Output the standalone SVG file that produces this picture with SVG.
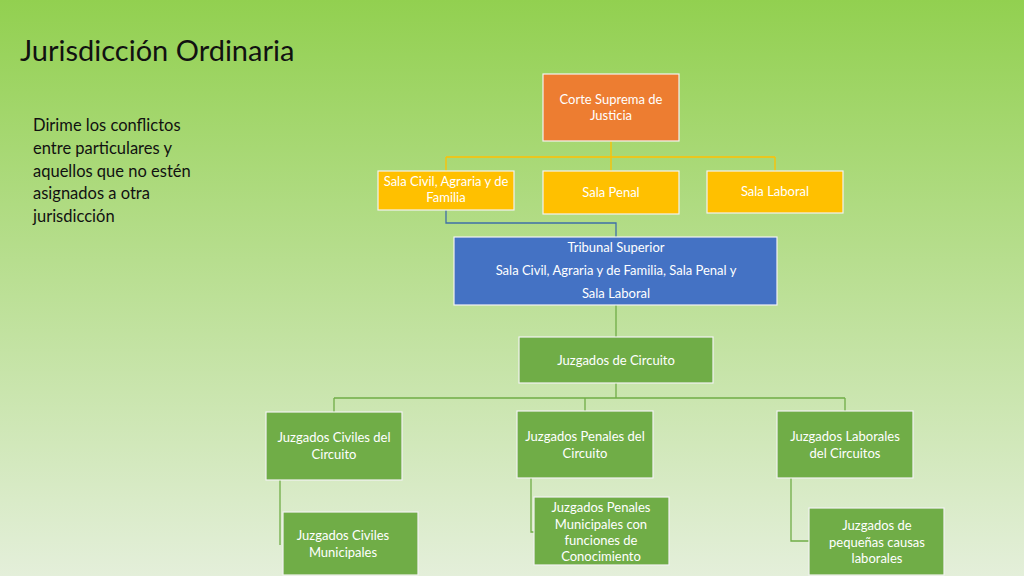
<svg xmlns="http://www.w3.org/2000/svg" width="1024" height="576" viewBox="0 0 1024 576">
<defs>
<linearGradient id="bg" x1="0" y1="0" x2="0" y2="1">
<stop offset="0" stop-color="#92d050"/>
<stop offset="1" stop-color="#e4efda"/>
</linearGradient>
<style>
.n{stroke:#f2f2f2;stroke-width:1.2}
.t{font-family:Lato,"Open Sans",sans-serif;font-size:13px;fill:#fff;text-anchor:middle}
.c{fill:none;stroke-width:1.3}
</style>
</defs>
<rect width="1024" height="576" fill="url(#bg)"/>
<text x="20" y="61" font-family="Lato,'Open Sans',sans-serif" font-size="29" fill="#111">Jurisdicción Ordinaria</text>
<g font-family="Lato,'Open Sans',sans-serif" font-size="16.5" fill="#111">
<text x="33" y="131">Dirime los conflictos</text>
<text x="33" y="154">entre particulares y</text>
<text x="33" y="177">aquellos que no estén</text>
<text x="33" y="199">asignados a otra</text>
<text x="33" y="222">jurisdicción</text>
</g>
<g id="connectors">
<path class="c" stroke="#ffc000" d="M611 141V157M446 157H775M446 157V171M611 157V171M775 157V171"/>
<path class="c" stroke="#3f6fa8" d="M446 210V223H616V237"/>
<path class="c" stroke="#70ad47" d="M616 305V337M616 383V398M334 398H845M334 398V412M585 398V411M845 398V411M280 480V545M531 478V532H534M791 478V541H809"/>
</g>
<g id="corte"><rect class="n" x="543" y="74" width="136" height="67" fill="#ed7d31"/><text class="t" x="611" y="104">Corte Suprema de</text><text class="t" x="611" y="120">Justicia</text></g>
<g id="salacivil"><rect class="n" x="378" y="171" width="136" height="39" fill="#ffc000"/><text class="t" x="446" y="186">Sala Civil, Agraria y de</text><text class="t" x="446" y="202">Familia</text></g>
<g id="salapenal"><rect class="n" x="543" y="171" width="136" height="43" fill="#ffc000"/><text class="t" x="611" y="197">Sala Penal</text></g>
<g id="salalaboral"><rect class="n" x="707" y="171" width="136" height="42" fill="#ffc000"/><text class="t" x="775" y="196">Sala Laboral</text></g>
<g id="tribunal"><rect class="n" x="454" y="237" width="323" height="68" fill="#4472c4"/><text class="t" x="616" y="252">Tribunal Superior</text><text class="t" x="616" y="275">Sala Civil, Agraria y de Familia, Sala Penal  y</text><text class="t" x="616" y="298">Sala Laboral</text></g>
<g id="circuito"><rect class="n" x="519" y="337" width="194" height="46" fill="#70ad47"/><text class="t" x="616" y="365">Juzgados de Circuito</text></g>
<g id="civiles"><rect class="n" x="266" y="412" width="136" height="68" fill="#70ad47"/><text class="t" x="334" y="442">Juzgados Civiles del</text><text class="t" x="334" y="459">Circuito</text></g>
<g id="penales"><rect class="n" x="517" y="411" width="136" height="67" fill="#70ad47"/><text class="t" x="585" y="441">Juzgados Penales del</text><text class="t" x="585" y="458">Circuito</text></g>
<g id="laborales"><rect class="n" x="777" y="411" width="136" height="67" fill="#70ad47"/><text class="t" x="845" y="441">Juzgados Laborales</text><text class="t" x="845" y="458">del Circuitos</text></g>
<g id="civmun"><rect class="n" x="283" y="512" width="135" height="63" fill="#70ad47"/><text class="t" x="343" y="540">Juzgados Civiles</text><text class="t" x="343" y="557">Municipales</text></g>
<g id="penmun"><rect class="n" x="534" y="497" width="135" height="68" fill="#70ad47"/><text class="t" x="601" y="512">Juzgados Penales</text><text class="t" x="601" y="529">Municipales con</text><text class="t" x="601" y="545">funciones de</text><text class="t" x="601" y="561">Conocimiento</text></g>
<g id="pequenas"><rect class="n" x="809" y="508" width="135" height="67" fill="#70ad47"/><text class="t" x="877" y="530">Juzgados de</text><text class="t" x="877" y="547">pequeñas causas</text><text class="t" x="877" y="563">laborales</text></g>
</svg>
